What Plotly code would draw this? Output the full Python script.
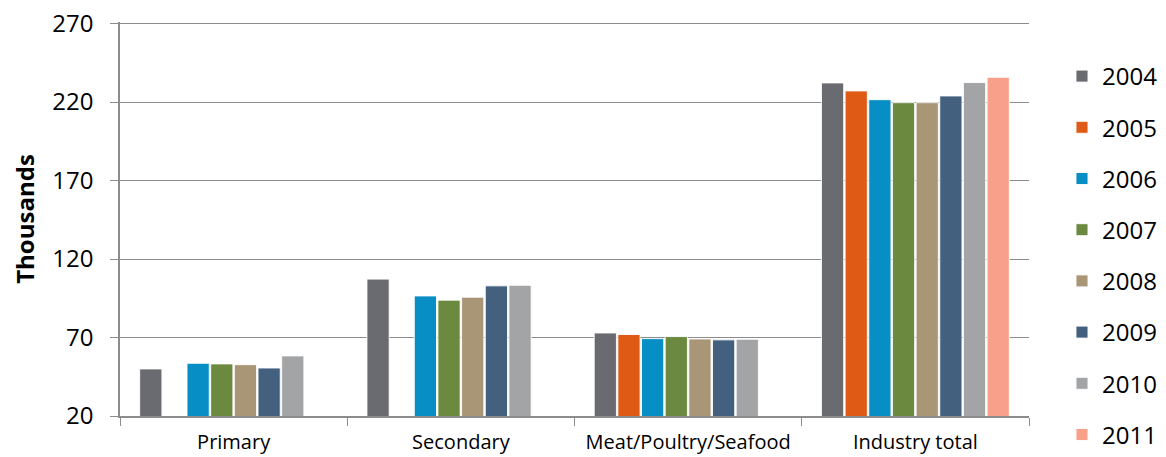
import plotly.graph_objects as go

categories = ["Primary", "Secondary", "Meat/Poultry/Seafood", "Industry total"]
years = ["2004", "2005", "2006", "2007", "2008", "2009", "2010", "2011"]

v2004 = [50.0, 107.2, 72.9, 232.2]
v2005 = [0, 0, 71.9, 227.1]
v2006 = [53.6, 96.5, 69.3, 221.5]
v2007 = [53.2, 93.8, 70.6, 219.6]
v2008 = [52.7, 95.7, 69.1, 219.6]
v2009 = [50.6, 102.9, 68.5, 223.9]
v2010 = [58.3, 103.3, 68.9, 232.4]
v2011 = [None, None, None, 235.8]

series = [v2004, v2005, v2006, v2007, v2008, v2009, v2010, v2011]
colors = ["#6a6b70", "#df5a15", "#078ec4", "#6b8a3f", "#a99677", "#44607f", "#a3a4a6", "#f8a08a"]

y_ticks = [20, 70, 120, 170, 220, 270]

FONT = "Open Sans"

fig = go.Figure()
for yr, vals, col in zip(years, series, colors):
    fig.add_trace(go.Bar(
        name=yr, x=categories, y=vals, legendgroup=yr,
        marker=dict(color=col, line=dict(color="rgba(255,255,255,0.9)", width=1)),
    ))

# page body has an 8px margin, so the figure is 8px smaller and margins shifted
fig.update_layout(
    width=1158, height=449,
    margin=dict(l=112, r=137, t=14, b=41, autoexpand=False),
    paper_bgcolor="white", plot_bgcolor="white",
    barmode="group", bargap=0.167, bargroupgap=0.06,
    font=dict(family=FONT, color="black"),
    legend=dict(
        x=1.0363, xanchor="left", y=0.9188, yanchor="top",
        font=dict(size=24, family=FONT, color="black"),
        tracegroupgap=17, itemwidth=30, maxheight=600,
        bgcolor="rgba(0,0,0,0)",
    ),
    showlegend=True,
)

fig.update_yaxes(
    range=[20, 271], tickvals=y_ticks, ticktext=[str(t) for t in y_ticks],
    showgrid=True, gridcolor="#8c8c8c", gridwidth=1.3,
    showline=True, linecolor="#8c8c8c", linewidth=1.5,
    ticks="outside", ticklen=8, tickcolor="#8c8c8c", tickwidth=1.3,
    ticklabelstandoff=12, ticklabeloverflow="allow",
    tickfont=dict(size=24, family=FONT, color="black"),
    title=dict(text="<b>Thousands</b>", font=dict(size=24, family=FONT, color="black"), standoff=14),
    zeroline=False, automargin=False,
)
fig.update_xaxes(
    showline=True, linecolor="#8c8c8c", linewidth=1.5,
    ticks="outside", ticklen=8, tickcolor="#8c8c8c", tickwidth=1.3,
    tickson="boundaries", ticklabelstandoff=7,
    tickfont=dict(size=20, family=FONT, color="black"),
    showgrid=False, automargin=False,
)

fig.write_html("out.html")
